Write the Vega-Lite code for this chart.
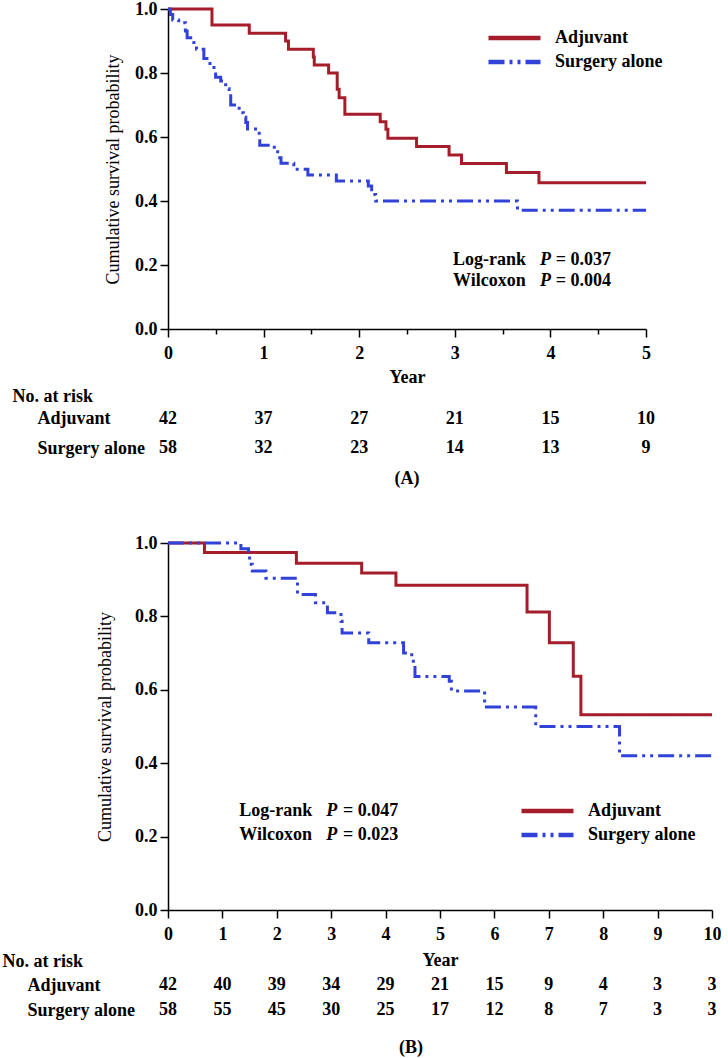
{
  "$schema": "https://vega.github.io/schema/vega-lite/v6.json",
  "background": "white",
  "padding": {"left": 2, "top": 0, "right": 0, "bottom": 0},
  "spacing": 63,
  "bounds": "flush",
  "resolve": {
    "scale": {"x": "independent", "y": "independent", "color": "independent", "strokeDash": "independent"},
    "legend": {"color": "independent", "strokeDash": "independent"}
  },
  "config": {
    "font": "Liberation Serif",
    "view": {"stroke": null},
    "axis": {
      "labelFont": "Liberation Serif", "labelFontWeight": "bold", "labelFontSize": 18, "labelColor": "black",
      "titleFont": "Liberation Serif", "titleFontSize": 18, "titleFontWeight": "bold", "titleColor": "black",
      "domainColor": "black", "tickColor": "black", "domainWidth": 1.5, "tickWidth": 1.5, "grid": false,
      "labelFlush": false, "labelOverlap": false
    },
    "title": {"font": "Liberation Serif", "fontSize": 18, "fontWeight": "bold", "color": "black"},
    "text": {"font": "Liberation Serif", "fontSize": 18, "fontWeight": "bold", "color": "black"}
  },
  "datasets": {
    "kmA": [
      {"group": "Adjuvant", "year": 0, "survival": 1},
      {"group": "Adjuvant", "year": 0.46, "survival": 0.95},
      {"group": "Adjuvant", "year": 0.85, "survival": 0.924},
      {"group": "Adjuvant", "year": 1.23, "survival": 0.9},
      {"group": "Adjuvant", "year": 1.26, "survival": 0.874},
      {"group": "Adjuvant", "year": 1.52, "survival": 0.85},
      {"group": "Adjuvant", "year": 1.53, "survival": 0.825},
      {"group": "Adjuvant", "year": 1.68, "survival": 0.8},
      {"group": "Adjuvant", "year": 1.77, "survival": 0.749},
      {"group": "Adjuvant", "year": 1.79, "survival": 0.723},
      {"group": "Adjuvant", "year": 1.85, "survival": 0.671},
      {"group": "Adjuvant", "year": 2.22, "survival": 0.648},
      {"group": "Adjuvant", "year": 2.28, "survival": 0.624},
      {"group": "Adjuvant", "year": 2.3, "survival": 0.596},
      {"group": "Adjuvant", "year": 2.6, "survival": 0.57},
      {"group": "Adjuvant", "year": 2.94, "survival": 0.544},
      {"group": "Adjuvant", "year": 3.07, "survival": 0.517},
      {"group": "Adjuvant", "year": 3.54, "survival": 0.489},
      {"group": "Adjuvant", "year": 3.88, "survival": 0.457},
      {"group": "Adjuvant", "year": 5, "survival": 0.457},
      {"group": "Surgery alone", "year": 0, "survival": 1},
      {"group": "Surgery alone", "year": 0.025, "survival": 0.983},
      {"group": "Surgery alone", "year": 0.049, "survival": 0.966},
      {"group": "Surgery alone", "year": 0.112, "survival": 0.957},
      {"group": "Surgery alone", "year": 0.182, "survival": 0.931},
      {"group": "Surgery alone", "year": 0.2, "survival": 0.91},
      {"group": "Surgery alone", "year": 0.27, "survival": 0.895},
      {"group": "Surgery alone", "year": 0.298, "survival": 0.874},
      {"group": "Surgery alone", "year": 0.375, "survival": 0.845},
      {"group": "Surgery alone", "year": 0.439, "survival": 0.822},
      {"group": "Surgery alone", "year": 0.481, "survival": 0.81},
      {"group": "Surgery alone", "year": 0.498, "survival": 0.787},
      {"group": "Surgery alone", "year": 0.551, "survival": 0.775},
      {"group": "Surgery alone", "year": 0.603, "survival": 0.751},
      {"group": "Surgery alone", "year": 0.639, "survival": 0.738},
      {"group": "Surgery alone", "year": 0.656, "survival": 0.7},
      {"group": "Surgery alone", "year": 0.744, "survival": 0.676},
      {"group": "Surgery alone", "year": 0.789, "survival": 0.662},
      {"group": "Surgery alone", "year": 0.814, "survival": 0.645},
      {"group": "Surgery alone", "year": 0.832, "survival": 0.625},
      {"group": "Surgery alone", "year": 0.954, "survival": 0.6},
      {"group": "Surgery alone", "year": 0.96, "survival": 0.574},
      {"group": "Surgery alone", "year": 1.112, "survival": 0.554},
      {"group": "Surgery alone", "year": 1.147, "survival": 0.535},
      {"group": "Surgery alone", "year": 1.182, "survival": 0.518},
      {"group": "Surgery alone", "year": 1.316, "survival": 0.499},
      {"group": "Surgery alone", "year": 1.463, "survival": 0.481},
      {"group": "Surgery alone", "year": 1.761, "survival": 0.4625},
      {"group": "Surgery alone", "year": 2.095, "survival": 0.447},
      {"group": "Surgery alone", "year": 2.13, "survival": 0.42},
      {"group": "Surgery alone", "year": 2.172, "survival": 0.4},
      {"group": "Surgery alone", "year": 3.656, "survival": 0.371},
      {"group": "Surgery alone", "year": 5, "survival": 0.371}
    ],
    "kmB": [
      {"group": "Adjuvant", "year": 0, "survival": 1},
      {"group": "Adjuvant", "year": 0.67, "survival": 0.974},
      {"group": "Adjuvant", "year": 2.36, "survival": 0.945},
      {"group": "Adjuvant", "year": 3.56, "survival": 0.918},
      {"group": "Adjuvant", "year": 4.19, "survival": 0.885},
      {"group": "Adjuvant", "year": 6.6, "survival": 0.812},
      {"group": "Adjuvant", "year": 7.01, "survival": 0.728},
      {"group": "Adjuvant", "year": 7.45, "survival": 0.637},
      {"group": "Adjuvant", "year": 7.59, "survival": 0.532},
      {"group": "Adjuvant", "year": 10, "survival": 0.532},
      {"group": "Surgery alone", "year": 0, "survival": 1},
      {"group": "Surgery alone", "year": 1.34, "survival": 0.984},
      {"group": "Surgery alone", "year": 1.48, "survival": 0.97},
      {"group": "Surgery alone", "year": 1.5, "survival": 0.942},
      {"group": "Surgery alone", "year": 1.55, "survival": 0.924},
      {"group": "Surgery alone", "year": 1.8, "survival": 0.904},
      {"group": "Surgery alone", "year": 2.38, "survival": 0.86},
      {"group": "Surgery alone", "year": 2.71, "survival": 0.837},
      {"group": "Surgery alone", "year": 2.93, "survival": 0.81},
      {"group": "Surgery alone", "year": 3.18, "survival": 0.787},
      {"group": "Surgery alone", "year": 3.2, "survival": 0.755},
      {"group": "Surgery alone", "year": 3.69, "survival": 0.728},
      {"group": "Surgery alone", "year": 4.33, "survival": 0.7},
      {"group": "Surgery alone", "year": 4.48, "survival": 0.678},
      {"group": "Surgery alone", "year": 4.54, "survival": 0.636},
      {"group": "Surgery alone", "year": 5.17, "survival": 0.623},
      {"group": "Surgery alone", "year": 5.21, "survival": 0.597},
      {"group": "Surgery alone", "year": 5.82, "survival": 0.553},
      {"group": "Surgery alone", "year": 6.76, "survival": 0.5},
      {"group": "Surgery alone", "year": 8.3, "survival": 0.42},
      {"group": "Surgery alone", "year": 10, "survival": 0.42}
    ],
    "riskA": [
      {"group": "Adjuvant", "year": 0, "n": 42},
      {"group": "Adjuvant", "year": 1, "n": 37},
      {"group": "Adjuvant", "year": 2, "n": 27},
      {"group": "Adjuvant", "year": 3, "n": 21},
      {"group": "Adjuvant", "year": 4, "n": 15},
      {"group": "Adjuvant", "year": 5, "n": 10},
      {"group": "Surgery alone", "year": 0, "n": 58},
      {"group": "Surgery alone", "year": 1, "n": 32},
      {"group": "Surgery alone", "year": 2, "n": 23},
      {"group": "Surgery alone", "year": 3, "n": 14},
      {"group": "Surgery alone", "year": 4, "n": 13},
      {"group": "Surgery alone", "year": 5, "n": 9}
    ],
    "riskB": [
      {"group": "Adjuvant", "year": 0, "n": 42},
      {"group": "Adjuvant", "year": 1, "n": 40},
      {"group": "Adjuvant", "year": 2, "n": 39},
      {"group": "Adjuvant", "year": 3, "n": 34},
      {"group": "Adjuvant", "year": 4, "n": 29},
      {"group": "Adjuvant", "year": 5, "n": 21},
      {"group": "Adjuvant", "year": 6, "n": 15},
      {"group": "Adjuvant", "year": 7, "n": 9},
      {"group": "Adjuvant", "year": 8, "n": 4},
      {"group": "Adjuvant", "year": 9, "n": 3},
      {"group": "Adjuvant", "year": 10, "n": 3},
      {"group": "Surgery alone", "year": 0, "n": 58},
      {"group": "Surgery alone", "year": 1, "n": 55},
      {"group": "Surgery alone", "year": 2, "n": 45},
      {"group": "Surgery alone", "year": 3, "n": 30},
      {"group": "Surgery alone", "year": 4, "n": 25},
      {"group": "Surgery alone", "year": 5, "n": 17},
      {"group": "Surgery alone", "year": 6, "n": 12},
      {"group": "Surgery alone", "year": 7, "n": 8},
      {"group": "Surgery alone", "year": 8, "n": 7},
      {"group": "Surgery alone", "year": 9, "n": 3},
      {"group": "Surgery alone", "year": 10, "n": 3}
    ],
    "statsA": [
      {"test": "Log-rank", "stat": "P", "value": "= 0.037"},
      {"test": "Wilcoxon", "stat": "P", "value": "= 0.004"}
    ],
    "statsB": [
      {"test": "Log-rank", "stat": "P", "value": "= 0.047"},
      {"test": "Wilcoxon", "stat": "P", "value": "= 0.023"}
    ]
  },
  "vconcat": [
    {
      "width": 478,
      "height": 320,
      "layer": [
        {
          "data": {"name": "kmA"},
          "mark": {"type": "line", "interpolate": "step-after", "strokeWidth": 3},
          "encoding": {
            "x": {
              "field": "year", "type": "quantitative",
              "scale": {"domain": [0, 5], "nice": false, "zero": false},
              "axis": {
                "title": "Year", "titlePadding": 6,
                "values": [0, 0.5, 1, 1.5, 2, 2.5, 3, 3.5, 4, 4.5, 5],
                "labelExpr": "datum.value % 1 === 0 ? format(datum.value, 'd') : ''",
                "tickSize": {"condition": {"test": "datum.value % 1 === 0", "value": 8}, "value": 5},
                "labelPadding": 7
              }
            },
            "y": {
              "field": "survival", "type": "quantitative",
              "scale": {"domain": [0, 1], "nice": false},
              "axis": {
                "title": "Cumulative survival probability",
                "titleFontWeight": "normal", "titleX": -55, "titleY": 160,
                "titleBaseline": "middle", "titleAlign": "center", "titleAngle": 270,
                "values": [0, 0.1, 0.2, 0.3, 0.4, 0.5, 0.6, 0.7, 0.8, 0.9, 1],
                "labelExpr": "round(datum.value * 10) % 2 === 0 ? format(datum.value, '.1f') : ''",
                "tickSize": {"condition": {"test": "round(datum.value * 10) % 2 === 0", "value": 8}, "value": 5},
                "labelPadding": 3
              }
            },
            "color": {
              "field": "group", "type": "nominal",
              "scale": {"domain": ["Adjuvant", "Surgery alone"], "range": ["#a51c2a", "#3142d8"]},
              "legend": {
                "title": null, "orient": "none", "legendX": 318, "legendY": 19,
                "symbolType": "stroke", "symbolSize": 2704, "symbolStrokeWidth": 4.5,
                "clipHeight": 20, "rowPadding": 4, "labelOffset": 12, "padding": 0,
                "labelFont": "Liberation Serif", "labelFontSize": 18, "labelFontWeight": "bold", "labelColor": "black"
              }
            },
            "strokeDash": {
              "field": "group", "type": "nominal",
              "scale": {"domain": ["Adjuvant", "Surgery alone"], "range": [[1, 0], [16, 5, 3, 5, 3, 5]]},
              "legend": {
                "title": null, "orient": "none", "legendX": 318, "legendY": 19,
                "symbolType": "stroke", "symbolSize": 2704, "symbolStrokeWidth": 4.5,
                "clipHeight": 20, "rowPadding": 4, "labelOffset": 12, "padding": 0,
                "labelFont": "Liberation Serif", "labelFontSize": 18, "labelFontWeight": "bold", "labelColor": "black"
              }
            }
          }
        },
        {
          "data": {"name": "statsA"},
          "transform": [{"filter": "datum.test === 'Log-rank'"}],
          "mark": {"type": "text", "align": "left", "baseline": "middle"},
          "encoding": {"x": {"datum": 2.981, "type": "quantitative"}, "y": {"datum": 0.2156, "type": "quantitative"}, "text": {"field": "test"}}
        },
        {
          "data": {"name": "statsA"},
          "transform": [{"filter": "datum.test === 'Log-rank'"}],
          "mark": {"type": "text", "align": "left", "baseline": "middle", "fontStyle": "italic"},
          "encoding": {"x": {"datum": 3.891, "type": "quantitative"}, "y": {"datum": 0.2156, "type": "quantitative"}, "text": {"field": "stat"}}
        },
        {
          "data": {"name": "statsA"},
          "transform": [{"filter": "datum.test === 'Log-rank'"}],
          "mark": {"type": "text", "align": "left", "baseline": "middle"},
          "encoding": {"x": {"datum": 4.056, "type": "quantitative"}, "y": {"datum": 0.2156, "type": "quantitative"}, "text": {"field": "value"}}
        },
        {
          "data": {"name": "statsA"},
          "transform": [{"filter": "datum.test === 'Wilcoxon'"}],
          "mark": {"type": "text", "align": "left", "baseline": "middle"},
          "encoding": {"x": {"datum": 2.981, "type": "quantitative"}, "y": {"datum": 0.15, "type": "quantitative"}, "text": {"field": "test"}}
        },
        {
          "data": {"name": "statsA"},
          "transform": [{"filter": "datum.test === 'Wilcoxon'"}],
          "mark": {"type": "text", "align": "left", "baseline": "middle", "fontStyle": "italic"},
          "encoding": {"x": {"datum": 3.891, "type": "quantitative"}, "y": {"datum": 0.15, "type": "quantitative"}, "text": {"field": "stat"}}
        },
        {
          "data": {"name": "statsA"},
          "transform": [{"filter": "datum.test === 'Wilcoxon'"}],
          "mark": {"type": "text", "align": "left", "baseline": "middle"},
          "encoding": {"x": {"datum": 4.056, "type": "quantitative"}, "y": {"datum": 0.15, "type": "quantitative"}, "text": {"field": "value"}}
        }
      ]
    },
    {
      "width": 478,
      "height": 88,
      "data": {"name": "riskA"},
      "title": {"text": "(A)", "orient": "bottom", "offset": -10, "frame": "group", "anchor": "middle"},
      "mark": {"type": "text", "baseline": "middle"},
      "encoding": {
        "x": {"field": "year", "type": "quantitative", "scale": {"domain": [0, 5], "nice": false, "zero": false}, "axis": null},
        "y": {
          "field": "group", "type": "nominal",
          "scale": {"type": "point", "domain": ["Adjuvant", "Surgery alone"], "padding": 1.26, "align": 0.46},
          "axis": {
            "title": "No. at risk", "titleAngle": 0, "titleX": -156, "titleY": 4,
            "titleAlign": "left", "titleBaseline": "middle",
            "domain": false, "ticks": false, "tickSize": 0,
            "labelAlign": "left", "labelBaseline": "middle", "labelPadding": 131
          }
        },
        "text": {"field": "n", "type": "quantitative"}
      }
    },
    {
      "width": 544,
      "height": 367,
      "layer": [
        {
          "data": {"name": "kmB"},
          "mark": {"type": "line", "interpolate": "step-after", "strokeWidth": 3},
          "encoding": {
            "x": {
              "field": "year", "type": "quantitative",
              "scale": {"domain": [0, 10], "nice": false, "zero": false},
              "axis": {
                "title": "Year", "titlePadding": 8,
                "values": [0, 0.5, 1, 1.5, 2, 2.5, 3, 3.5, 4, 4.5, 5, 5.5, 6, 6.5, 7, 7.5, 8, 8.5, 9, 9.5, 10],
                "labelExpr": "datum.value % 1 === 0 ? format(datum.value, 'd') : ''",
                "tickSize": {"condition": {"test": "datum.value % 1 === 0", "value": 8}, "value": 5},
                "labelPadding": 7
              }
            },
            "y": {
              "field": "survival", "type": "quantitative",
              "scale": {"domain": [0, 1], "nice": false},
              "axis": {
                "title": "Cumulative survival probability",
                "titleFontWeight": "normal", "titleX": -63, "titleY": 183.5,
                "titleBaseline": "middle", "titleAlign": "center", "titleAngle": 270,
                "values": [0, 0.1, 0.2, 0.3, 0.4, 0.5, 0.6, 0.7, 0.8, 0.9, 1],
                "labelExpr": "round(datum.value * 10) % 2 === 0 ? format(datum.value, '.1f') : ''",
                "tickSize": {"condition": {"test": "round(datum.value * 10) % 2 === 0", "value": 8}, "value": 5},
                "labelPadding": 3
              }
            },
            "color": {
              "field": "group", "type": "nominal",
              "scale": {"domain": ["Adjuvant", "Surgery alone"], "range": ["#a51c2a", "#3142d8"]},
              "legend": {
                "title": null, "orient": "none", "legendX": 351, "legendY": 258,
                "symbolType": "stroke", "symbolSize": 2704, "symbolStrokeWidth": 4.5,
                "clipHeight": 20, "rowPadding": 4, "labelOffset": 12, "padding": 0,
                "labelFont": "Liberation Serif", "labelFontSize": 18, "labelFontWeight": "bold", "labelColor": "black"
              }
            },
            "strokeDash": {
              "field": "group", "type": "nominal",
              "scale": {"domain": ["Adjuvant", "Surgery alone"], "range": [[1, 0], [16, 5, 3, 5, 3, 5]]},
              "legend": {
                "title": null, "orient": "none", "legendX": 351, "legendY": 258,
                "symbolType": "stroke", "symbolSize": 2704, "symbolStrokeWidth": 4.5,
                "clipHeight": 20, "rowPadding": 4, "labelOffset": 12, "padding": 0,
                "labelFont": "Liberation Serif", "labelFontSize": 18, "labelFontWeight": "bold", "labelColor": "black"
              }
            }
          }
        },
        {
          "data": {"name": "statsB"},
          "transform": [{"filter": "datum.test === 'Log-rank'"}],
          "mark": {"type": "text", "align": "left", "baseline": "middle"},
          "encoding": {"x": {"datum": 1.31, "type": "quantitative"}, "y": {"datum": 0.2698, "type": "quantitative"}, "text": {"field": "test"}}
        },
        {
          "data": {"name": "statsB"},
          "transform": [{"filter": "datum.test === 'Log-rank'"}],
          "mark": {"type": "text", "align": "left", "baseline": "middle", "fontStyle": "italic"},
          "encoding": {"x": {"datum": 2.91, "type": "quantitative"}, "y": {"datum": 0.2698, "type": "quantitative"}, "text": {"field": "stat"}}
        },
        {
          "data": {"name": "statsB"},
          "transform": [{"filter": "datum.test === 'Log-rank'"}],
          "mark": {"type": "text", "align": "left", "baseline": "middle"},
          "encoding": {"x": {"datum": 3.215, "type": "quantitative"}, "y": {"datum": 0.2698, "type": "quantitative"}, "text": {"field": "value"}}
        },
        {
          "data": {"name": "statsB"},
          "transform": [{"filter": "datum.test === 'Wilcoxon'"}],
          "mark": {"type": "text", "align": "left", "baseline": "middle"},
          "encoding": {"x": {"datum": 1.31, "type": "quantitative"}, "y": {"datum": 0.2044, "type": "quantitative"}, "text": {"field": "test"}}
        },
        {
          "data": {"name": "statsB"},
          "transform": [{"filter": "datum.test === 'Wilcoxon'"}],
          "mark": {"type": "text", "align": "left", "baseline": "middle", "fontStyle": "italic"},
          "encoding": {"x": {"datum": 2.91, "type": "quantitative"}, "y": {"datum": 0.2044, "type": "quantitative"}, "text": {"field": "stat"}}
        },
        {
          "data": {"name": "statsB"},
          "transform": [{"filter": "datum.test === 'Wilcoxon'"}],
          "mark": {"type": "text", "align": "left", "baseline": "middle"},
          "encoding": {"x": {"datum": 3.215, "type": "quantitative"}, "y": {"datum": 0.2044, "type": "quantitative"}, "text": {"field": "value"}}
        }
      ]
    },
    {
      "width": 544,
      "height": 50,
      "data": {"name": "riskB"},
      "title": {"text": "(B)", "orient": "bottom", "offset": 16, "frame": "group", "anchor": "middle", "dx": -29},
      "mark": {"type": "text", "baseline": "middle"},
      "encoding": {
        "x": {"field": "year", "type": "quantitative", "scale": {"domain": [0, 10], "nice": false, "zero": false}, "axis": null},
        "y": {
          "field": "group", "type": "nominal",
          "scale": {"type": "point", "domain": ["Adjuvant", "Surgery alone"], "padding": 0.5, "align": 0.48},
          "axis": {
            "title": "No. at risk", "titleAngle": 0, "titleX": -166, "titleY": -12,
            "titleAlign": "left", "titleBaseline": "middle",
            "domain": false, "ticks": false, "tickSize": 0,
            "labelAlign": "left", "labelBaseline": "middle", "labelPadding": 141
          }
        },
        "text": {"field": "n", "type": "quantitative"}
      }
    }
  ]
}
